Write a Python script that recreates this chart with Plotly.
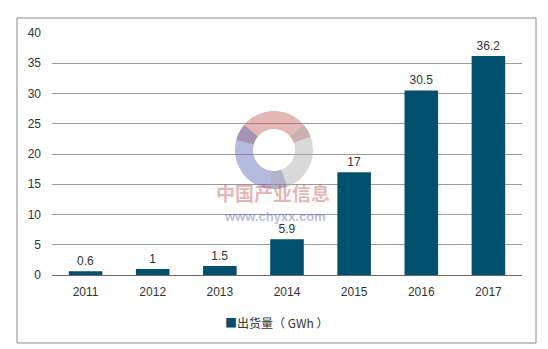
import numpy as np
import plotly.graph_objects as go

years = ["2011", "2012", "2013", "2014", "2015", "2016", "2017"]
shipments = [0.6, 1, 1.5, 5.9, 17, 30.5, 36.2]
labels = ["0.6", "1", "1.5", "5.9", "17", "30.5", "36.2"]
series_name = "出货量（GWh）"

BAR = "#00506e"
FONT = "Liberation Sans, Arial, sans-serif"

fig = go.Figure()
fig.add_trace(go.Bar(
    x=years, y=shipments, name=series_name,
    marker=dict(color=BAR, line=dict(width=0)),
    text=labels, textposition="outside", cliponaxis=False,
    textfont=dict(size=12, color="#333333", family=FONT),
    showlegend=False,
))

def arc(r_out, r_in, a0, a1, n=40):
    t = np.linspace(np.radians(a0), np.radians(a1), n)
    pts = [(r_out*np.cos(a), r_out*np.sin(a)) for a in t]
    pts += [(r_in*np.cos(a), r_in*np.sin(a)) for a in t[::-1]]
    return "M " + " L ".join(f"{x:.1f},{y:.1f}" for x, y in pts) + " Z"

shapes = []
ax, ay = (274-52)/470, (275-150)/242
for a0, a1, col in [(20, 165, "rgba(195,95,95,0.45)"),
                    (140, 290, "rgba(90,105,185,0.45)"),
                    (265, 400, "rgba(170,170,170,0.45)")]:
    shapes.append(dict(type="path", xref="paper", yref="paper",
                       xsizemode="pixel", ysizemode="pixel",
                       xanchor=ax, yanchor=ay, path=arc(39, 21, a0, a1),
                       line=dict(width=0), fillcolor=col, layer="above"))
# outer border
shapes.append(dict(type="rect", xref="paper", yref="paper",
                   x0=(17-52)/470, x1=(536-52)/470,
                   y0=(275-343)/242, y1=(275-18)/242,
                   line=dict(color="#8a8a8a", width=1), fillcolor="rgba(0,0,0,0)"))

annotations = [
    dict(text="<b>中国产业信息</b>", xref="paper", yref="paper",
         x=(273-52)/470, y=(275-208)/242, showarrow=False,
         font=dict(size=19, color="rgba(200,90,90,0.45)", family="Noto Sans CJK SC")),
    dict(text="<b>www.chyxx.com</b>", xref="paper", yref="paper",
         x=(275-52)/470, y=(275-226)/242, showarrow=False,
         font=dict(size=13, color="rgba(90,105,185,0.45)", family=FONT)),
    # legend
    dict(text=f"<span style='color:{BAR}'>■</span>" + series_name.replace("（", "（ ").replace("）", " ）"),
         xref="paper", yref="paper",
         x=(276-52)/470, y=(275-322)/242, showarrow=False,
         xanchor="center", yanchor="middle",
         font=dict(size=12, color="#333333", family="Noto Sans CJK SC, " + FONT)),
]

fig.update_layout(
    width=548, height=349,
    margin=dict(l=52, r=26, t=33, b=74),
    paper_bgcolor="white", plot_bgcolor="white",
    font=dict(family=FONT, size=12, color="#333333"),
    bargap=0.5, showlegend=False,
    shapes=shapes, annotations=annotations,
    xaxis=dict(showgrid=False, showline=True, linecolor="#6a6a6a", linewidth=1,
               ticks="", ticklabelstandoff=6, tickfont=dict(size=12, color="#333333")),
    yaxis=dict(range=[0, 40], tick0=0, dtick=5, showgrid=True,
               gridcolor="#9a9a9a", gridwidth=1, zeroline=False,
               showline=False, ticks="", ticklabelstandoff=10,
               tickfont=dict(size=12, color="#333333")),
)

fig.write_html("out.html")
